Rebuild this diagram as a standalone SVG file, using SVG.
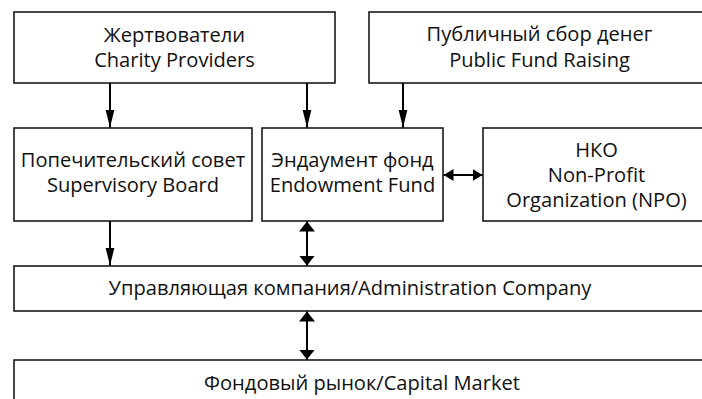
<svg xmlns="http://www.w3.org/2000/svg" width="702" height="399" viewBox="0 0 702 399">
<style>
.box{fill:#fff;stroke:#1a1a1a;stroke-width:1.6}
.t{font-family:"Open Sans","Noto Sans","DejaVu Sans",sans-serif;font-size:20.1px;fill:#111;text-anchor:middle}
.c{stroke:#000;stroke-width:2;fill:none}
</style>
<defs>
<marker id="ah" markerUnits="userSpaceOnUse" markerWidth="18" markerHeight="10" refX="18" refY="5" orient="auto" viewBox="0 0 18 10"><path d="M0,0.5 L18,5 L0,9.5 z" fill="#000"/></marker>
<marker id="dv" markerUnits="userSpaceOnUse" markerWidth="10" markerHeight="18" refX="10" refY="9" orient="auto-start-reverse" viewBox="0 0 10 18"><path d="M0,1 L10,9 L0,17 z" fill="#000"/></marker>
<marker id="dh" markerUnits="userSpaceOnUse" markerWidth="10" markerHeight="14" refX="10" refY="7" orient="auto-start-reverse" viewBox="0 0 10 14"><path d="M0,1 L10,7 L0,13 z" fill="#000"/></marker>
</defs>
<rect width="702" height="399" fill="#fff"/>
<g id="charity"><rect class="box" x="14" y="12" width="321" height="71"/><text class="t" x="174.5" y="41.5">Жертвователи</text><text class="t" x="174.5" y="67">Charity Providers</text></g>
<g id="public"><rect class="box" x="369" y="12" width="341" height="71"/><text class="t" x="539.5" y="41">Публичный сбор денег</text><text class="t" x="539.5" y="66.5">Public Fund Raising</text></g>
<g id="supervisory"><rect class="box" x="14" y="128" width="238" height="93"/><text class="t" x="133" y="166.5">Попечительский совет</text><text class="t" x="133" y="191.5">Supervisory Board</text></g>
<g id="endowment"><rect class="box" x="262" y="128" width="181" height="93"/><text class="t" x="352.5" y="166.5">Эндаумент фонд</text><text class="t" x="352.5" y="191.5">Endowment Fund</text></g>
<g id="npo"><rect class="box" x="483" y="128" width="227" height="93"/><text class="t" x="596.5" y="156.5">НКО</text><text class="t" x="596.5" y="181.5">Non-Profit</text><text class="t" x="596.5" y="206.5">Organization (NPO)</text></g>
<g id="admin"><rect class="box" x="14" y="266" width="696" height="45"/><text class="t" x="350" y="295">Управляющая компания/Administration Company</text></g>
<g id="capital"><rect class="box" x="14" y="360" width="696" height="50"/><text class="t" x="362" y="390">Фондовый рынок/Capital Market</text></g>
<g id="connectors">
<line class="c" x1="110" y1="83" x2="110" y2="127.5" marker-end="url(#ah)"/>
<line class="c" x1="307" y1="83" x2="307" y2="127.5" marker-end="url(#ah)"/>
<line class="c" x1="403" y1="83" x2="403" y2="127.5" marker-end="url(#ah)"/>
<line class="c" x1="110" y1="221" x2="110" y2="265.5" marker-end="url(#ah)"/>
<line class="c" x1="307" y1="221.5" x2="307" y2="265.5" marker-start="url(#dv)" marker-end="url(#dv)"/>
<line class="c" x1="443.5" y1="175" x2="482.5" y2="175" marker-start="url(#dh)" marker-end="url(#dh)"/>
<line class="c" x1="307" y1="311.5" x2="307" y2="359.5" marker-start="url(#dv)" marker-end="url(#dv)"/>
</g>
</svg>
